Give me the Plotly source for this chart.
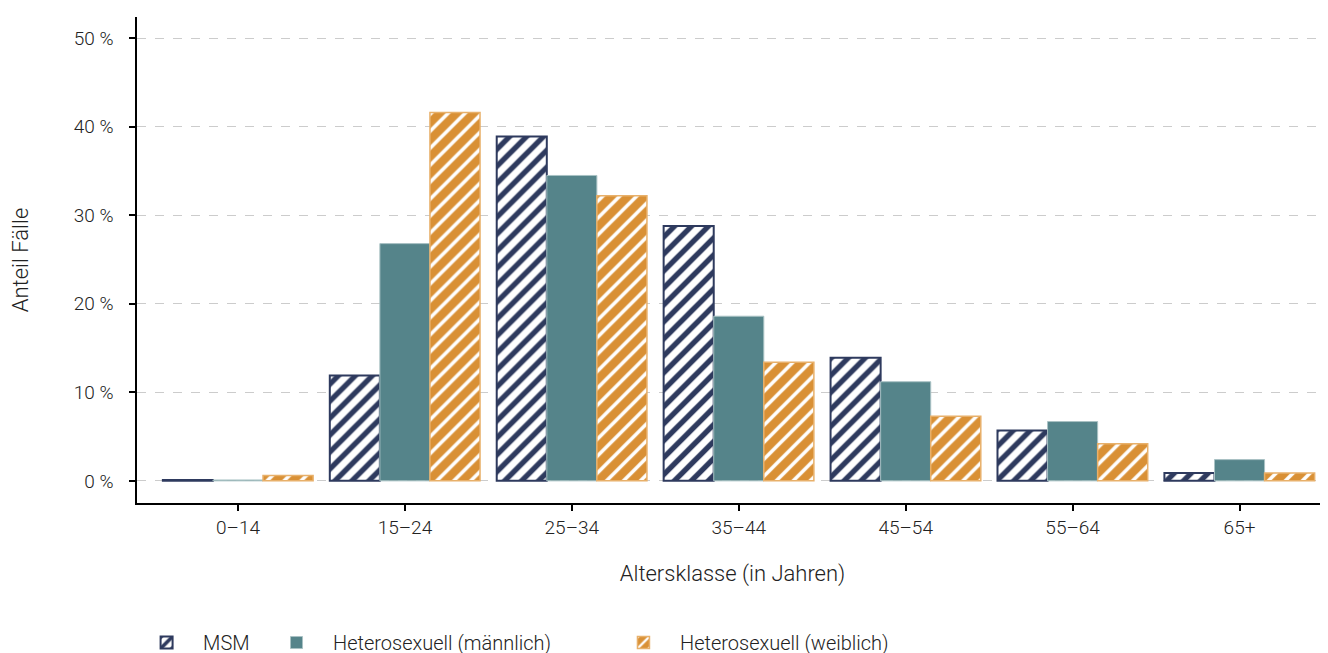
import plotly.graph_objects as go

categories = ["0–14", "15–24", "25–34", "35–44", "45–54", "55–64", "65+"]
msm = [0.1, 11.9, 38.9, 28.8, 13.9, 5.7, 0.9]
het_m = [0.1, 26.8, 34.5, 18.6, 11.2, 6.7, 2.4]
het_w = [0.6, 41.6, 32.2, 13.4, 7.3, 4.2, 0.9]
y_ticks = [0, 10, 20, 30, 40, 50]
y_ticktext = [f"{v} %" for v in y_ticks]

NAVY = "#2e3a5e"
TEAL = "#55848a"
ORANGE = "#d99035"
FONT = "Roboto"
TXT = "#222222"

fig = go.Figure()
fig.add_trace(go.Bar(
    x=categories, y=msm, name="MSM", legend="legend",
    marker=dict(color="white", line=dict(color=NAVY, width=2),
                pattern=dict(shape="/", fgcolor=NAVY, bgcolor="white",
                             size=12, solidity=0.45, fillmode="replace")),
))
fig.add_trace(go.Bar(
    x=categories, y=het_m, name="Heterosexuell (männlich)", legend="legend2",
    marker=dict(color=TEAL, line=dict(color="#a9c2c4", width=1)),
))
fig.add_trace(go.Bar(
    x=categories, y=het_w, name="Heterosexuell (weiblich)", legend="legend3",
    marker=dict(color=ORANGE, line=dict(color="#e8b06a", width=1.5),
                pattern=dict(shape="/", fgcolor="white", bgcolor=ORANGE,
                             size=12, solidity=0.3, fillmode="replace")),
))

leg_common = dict(orientation="h", xanchor="left", y=-0.247, yanchor="top",
                  font=dict(family=FONT, size=20, color=TXT, weight=300),
                  itemwidth=63, bgcolor="rgba(0,0,0,0)")

fig.update_layout(
    width=1328, height=653,
    margin=dict(l=129, r=8, t=9, b=158, autoexpand=False),
    paper_bgcolor="white", plot_bgcolor="white",
    barmode="group", bargap=0.1, bargroupgap=0,
    font=dict(family=FONT, size=18, color=TXT, weight=300),
    showlegend=True,
    legend=dict(x=-0.0058, **leg_common),
    legend2=dict(x=0.1033, **leg_common),
    legend3=dict(x=0.3946, **leg_common),
    xaxis=dict(
        range=[-0.605, 6.53], showline=True, linecolor="black", linewidth=1.5,
        ticks="outside", ticklen=6, tickcolor="black", tickwidth=1.5,
        showgrid=False, zeroline=False, automargin=False,
        tickfont=dict(family=FONT, size=19, color=TXT, weight=300),
        title=dict(text="Altersklasse (in Jahren)", standoff=28,
                   font=dict(family=FONT, size=22, color=TXT, weight=300)),
    ),
    yaxis=dict(
        range=[-2.5, 52.4], tickvals=y_ticks, ticktext=y_ticktext,
        showline=True, linecolor="black", linewidth=1.5,
        ticks="outside", ticklen=6, tickcolor="black", tickwidth=1.5,
        ticklabelstandoff=12,
        showgrid=True, gridcolor="#cccccc", griddash="dash", gridwidth=1,
        zeroline=False, automargin=False,
        tickfont=dict(family=FONT, size=19, color=TXT, weight=300),
        title=dict(text="Anteil Fälle", standoff=45,
                   font=dict(family=FONT, size=22, color=TXT, weight=300)),
    ),
)

fig.write_html("out.html")
